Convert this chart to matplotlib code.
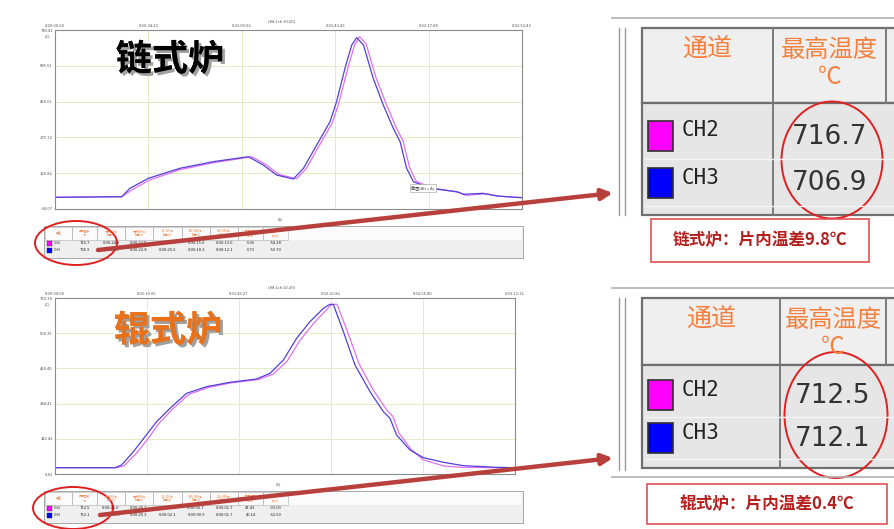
import numpy as np
import matplotlib
matplotlib.use("Agg")
import matplotlib.pyplot as plt
import matplotlib.patheffects as pe
from matplotlib.patches import Rectangle, Ellipse

plt.rcParams['font.family'] = ['Noto Sans CJK SC', 'DejaVu Sans']

# ---------------- data ----------------
# chain furnace (链式炉), time in s, temperature in C
chain_t_ch3 = [0, 24.6, 27.6, 34.4, 46.0, 58.3, 71.2, 76.7, 81.6, 87.8, 91.5, 96.4, 101.3, 103.7,
               106.8, 109.3, 111.1, 113.6, 117.2, 120.9, 124.6, 127.1, 129.5, 132.0, 138.1,
               147.9, 150.4, 157.7, 162.7, 171.9]
chain_ch3 = [16.5, 19.2, 55.4, 98.7, 142, 170.7, 192.3, 156.3, 113, 95.7, 142, 243, 343.7, 430.4,
             574.6, 675.6, 707.2, 675.6, 531.4, 416, 315, 257.3, 142, 84, 55.4,
             40.8, 29.5, 33.8, 22.2, 14.8]
chain_t_ch2 = [0, 24.6, 28.5, 35.0, 46.0, 58.3, 72.5, 77.7, 82.5, 89.0, 92.5, 97.3, 102.2, 104.6,
               107.8, 110.3, 112.2, 114.6, 118.2, 122.0, 125.6, 128.2, 130.6, 133.0, 139.0,
               148.9, 151.4, 158.7, 163.7, 171.9]
chain_ch2 = [16.5, 19, 50, 92, 136, 166, 192, 158, 115, 97, 140, 240, 340, 428,
             572, 675, 712, 680, 535, 420, 320, 260, 145, 86, 57,
             38, 25, 32, 21, 15]

# roller furnace (辊式炉)
roller_t_ch3 = [0, 30, 33.3, 39.2, 45, 50.8, 57.5, 65.8, 75.8, 87.5, 100.8, 107.5, 114.2, 120.8,
                127.5, 134.2, 137.5, 139.2, 144.2, 150, 157.5, 164.2, 167.5, 170.8, 177.5,
                184.2, 194.2, 204.2, 220.8, 230]
roller_ch3 = [25.9, 25.9, 36.7, 90.4, 151, 211.5, 265.4, 325.9, 352.7, 370.3, 383.7, 406.5, 460.3,
              547.7, 615, 668.8, 684.9, 684, 574.5, 440.1, 332.6, 251.8, 225.1, 157.8, 97.2,
              66.3, 47.6, 34, 27.4, 25.9]
roller_t_ch2 = [0, 31, 34.5, 40.5, 46.5, 52, 58.5, 67, 77, 88, 101.5, 109, 116, 122.5,
                129.5, 136, 138.5, 141, 146, 152, 159.2, 166, 169, 172, 178,
                184, 194.2, 204.2, 220.8, 230]
roller_ch2 = [25.9, 25.9, 33, 82, 143, 205, 260, 322, 350, 368, 381, 403, 455, 540,
              610, 665, 685, 685, 580, 445, 338, 257, 232, 165, 100,
              58, 33, 27, 26, 26]

chain_xticks = ["0:00:00:00", "0:00:34:22", "0:01:09:02", "0:01:43:43", "0:02:17:84", "0:02:52:43"]
chain_yticks = ["-34.07", "120.82", "275.72", "430.61", "585.51", "740.41"]
roller_xticks = ["0:00:00:00", "0:01:10:05", "0:01:45:27", "0:02:21:82", "0:02:55:40", "0:03:12:12"]
roller_yticks = ["0.43", "142.42", "284.41", "426.40", "568.39", "710.38"]

channels = ["CH2", "CH3"]
ch_colors = ["#ff00ff", "#0000ff"]
line_colors = ["#e070f0", "#5040d8"]

table_head = ["通道", "最高温度\n℃", "大于200℃\n时间(s)", "大于400℃\n时间(s)", "60~200℃\n时间(s)",
              "200~400℃\n时间(s)", "400~600℃\n时间(s)", "升温斜率\n(℃/s)", "降温斜率\n(℃/s)"]
chain_rows = [["716.7", "0:00:24.6", "0:00:22.5", "0:00:26.2", "0:00:15.0", "0:00:13.0", "6.36", "-54.28"],
              ["706.9", "0:00:24.8", "0:00:22.8", "0:00:25.6", "0:00:18.3", "0:00:12.1", "6.73", "-59.70"]]
roller_rows = [["712.5", "0:00:25.0", "0:00:25.2", "0:00:02.1", "0:00:00.7", "0:00:01.7", "47.43", "-93.09"],
               ["712.1", "0:00:25.6", "0:00:25.3", "0:00:02.1", "0:00:00.9", "0:00:01.7", "46.14", "-62.50"]]

chain_max = ["716.7", "706.9"]
roller_max = ["712.5", "712.1"]
chain_caption = "链式炉：片内温差9.8℃"
roller_caption = "辊式炉：片内温差0.4℃"

W, H = 894, 529
fig = plt.figure(figsize=(W / 100, H / 100), dpi=100)
fig.patch.set_facecolor("white")


def px_axes(x0, y0, x1, y1, **kw):
    return fig.add_axes([x0 / W, 1 - y1 / H, (x1 - x0) / W, (y1 - y0) / H], **kw)


def draw_chart(ax, t2, v2, t3, v3, xmax, ylims, xt, yt):
    ax.plot(t2, v2, color=line_colors[0], lw=0.9)
    ax.plot(t3, v3, color=line_colors[1], lw=0.9)
    ax.set_xlim(0, xmax)
    ax.set_ylim(*ylims)
    ax.set_xticks(np.linspace(0, xmax, 6))
    ax.set_xticklabels(xt)
    ax.set_yticks(np.linspace(ylims[0], ylims[1], 6))
    ax.set_yticklabels(yt)
    ax.xaxis.tick_top()
    ax.tick_params(labelsize=3, length=0, pad=1.5, colors="#555555")
    ax.grid(color="#e4eac4", lw=0.7)
    for s in ax.spines.values():
        s.set_color("#8a8a8a")
        s.set_linewidth(0.8)


ax1 = px_axes(55, 30, 522, 209)
draw_chart(ax1, chain_t_ch2, chain_ch2, chain_t_ch3, chain_ch3, 172,
           (float(chain_yticks[0]), float(chain_yticks[-1])), chain_xticks, chain_yticks)
ax2 = px_axes(55, 298, 515, 474)
draw_chart(ax2, roller_t_ch2, roller_ch2, roller_t_ch3, roller_ch3, 230,
           (float(roller_yticks[0]), float(roller_yticks[-1])), roller_xticks, roller_yticks)

# overlay in pixel coordinates
ov = px_axes(0, 0, W, H, zorder=5)
ov.set_xlim(0, W)
ov.set_ylim(H, 0)
ov.axis("off")
ov.patch.set_alpha(0)

# chart captions
ov.text(282, 21, "(88.1ch 10:20)", fontsize=3, ha="center", va="center", color="#555555")
ov.text(282, 287, "(88.1ch 10:20)", fontsize=3, ha="center", va="center", color="#555555")
ov.text(47, 36, "(C)", fontsize=3, ha="center", va="center", color="#555555")
ov.text(47, 304, "(C)", fontsize=3, ha="center", va="center", color="#555555")
ov.text(280, 219, "(S)", fontsize=3, ha="center", va="center", color="#555555")
ov.text(278, 484, "(S)", fontsize=3, ha="center", va="center", color="#555555")
ov.text(423, 188, "截图(Alt + A)", fontsize=3, ha="center", va="center", color="#444444",
        bbox=dict(boxstyle="square,pad=0.3", fc="white", ec="#999999", lw=0.4))

# big overlay titles
ov.text(170, 60, "链式炉", fontsize=26, fontweight="bold", color="black", ha="center", va="center",
        path_effects=[pe.withStroke(linewidth=3, foreground="white"),
                      pe.SimplePatchShadow(offset=(2, -2), shadow_rgbFace="#888888", alpha=0.8),
                      pe.Normal()])
ov.text(168, 331, "辊式炉", fontsize=26, fontweight="bold", color="#e8711a", ha="center", va="center",
        path_effects=[pe.withStroke(linewidth=3, foreground="white"),
                      pe.SimplePatchShadow(offset=(2, -2), shadow_rgbFace="#888888", alpha=0.8),
                      pe.Normal()])

# small data tables under the charts
col_edges = [45, 72, 97, 125, 153, 182, 210, 238, 263, 288]


def small_table(y0, rows):
    ov.add_patch(Rectangle((44, y0), 479, 32, fc="#efefef", ec="#9a9a9a", lw=0.6))
    ov.add_patch(Rectangle((45, y0 + 1), 477, 13, fc="#fbfbfb", ec="none"))
    for i in range(len(col_edges) - 1):
        ov.add_patch(Rectangle((col_edges[i], y0 + 1), col_edges[i + 1] - col_edges[i], 13,
                               fc="none", ec="#b0b0b0", lw=0.4))
        ov.text((col_edges[i] + col_edges[i + 1]) / 2, y0 + 7.5, table_head[i], fontsize=2,
                ha="center", va="center", color="#f07a3a", linespacing=1.0)
    for r, row in enumerate(rows):
        yy = y0 + 17 + r * 7
        ov.add_patch(Rectangle((47, yy - 2.5), 5, 5, fc=ch_colors[r], ec="#333333", lw=0.3))
        ov.text(54, yy, channels[r], fontsize=2.6, ha="left", va="center", color="#222222")
        for c, val in enumerate(row):
            ov.text((col_edges[c + 1] + col_edges[c + 2]) / 2, yy, val, fontsize=3,
                    ha="center", va="center", color="#222222")


small_table(226, chain_rows)
small_table(491, roller_rows)

# red ellipses around the small tables
ov.add_patch(Ellipse((76, 243), 82, 44, fc="none", ec="#e02020", lw=1.4))
ov.add_patch(Ellipse((73, 508), 80, 42, fc="none", ec="#e02020", lw=1.4))

# arrows to the zoomed tables
for start, end in [((98, 250), (613, 193)), ((100, 515), (613, 458))]:
    ov.annotate("", xy=end, xytext=start,
                arrowprops=dict(arrowstyle="-|>", lw=3.2, color="#b8403c", mutation_scale=16,
                                shrinkA=0, shrinkB=0))


# zoomed-in tables on the right
def big_table(top, head_bot, body_bot, frame_bot, col_x, maxvals, caption, cap_box, ell):
    ov.plot([612, W], [top - 10, top - 10], color="#b0b0b0", lw=1.2)
    ov.plot([619, 619], [top, frame_bot], color="#9a9a9a", lw=1.0)
    ov.plot([625, 625], [top, frame_bot], color="#9a9a9a", lw=1.0)
    ov.add_patch(Rectangle((642, top), W - 642 + 5, head_bot - top, fc="#efefef", ec="#6f6f6f", lw=1.6))
    ov.add_patch(Rectangle((642, head_bot), W - 642 + 5, body_bot - head_bot, fc="#e6e6e6",
                           ec="#6f6f6f", lw=1.6))
    ov.plot([col_x, col_x], [top, body_bot], color="#7a7a7a", lw=1.4)
    ov.plot([886, 886], [top, head_bot], color="#7a7a7a", lw=1.4)
    ov.text((642 + col_x) / 2, top + 22, "通道", fontsize=18, color="#f5803e",
            ha="center", va="center")
    ov.text((col_x + 886) / 2, top + 22, "最高温度", fontsize=17.5, color="#f5803e",
            ha="center", va="center")
    ov.text((col_x + 886) / 2, top + 49, "℃", fontsize=17, color="#f5803e",
            ha="center", va="center")
    row_h = (body_bot - head_bot - 18) / 2
    for r in range(2):
        yc = head_bot + 8 + row_h * (r + 0.5)
        ov.add_patch(Rectangle((648, yc - 14), 25, 30, fc=ch_colors[r], ec="#303030", lw=1.2))
        ov.text(682, yc - 4, channels[r], fontsize=15, family="DejaVu Sans Mono", color="#222222",
                ha="left", va="center")
        ov.text((col_x + 886) / 2, yc + 2, maxvals[r], fontsize=19, family="Liberation Sans Narrow",
                color="#333333", ha="center", va="center")
        ov.plot([645, W], [yc + row_h / 2 + 1, yc + row_h / 2 + 1], color="#f4f4f4", lw=1)
    ov.add_patch(Ellipse(ell[:2], ell[2], ell[3], fc="none", ec="#e02020", lw=1.4))
    x0, y0, x1, y1 = cap_box
    ov.add_patch(Rectangle((x0, y0), x1 - x0, y1 - y0, fc="white", ec="#e05050", lw=1.2))
    ov.text((x0 + x1) / 2, (y0 + y1) / 2, caption, fontsize=12, fontweight="bold",
            color="#b5201e", ha="center", va="center")


big_table(28, 103, 215, 215, 773, chain_max, chain_caption, (651, 219, 869, 262), (832, 160, 101, 117))
big_table(298, 365, 468, 470, 780, roller_max, roller_caption, (647, 484, 887, 524), (836, 415, 103, 126))
ov.plot([612, W], [477, 477], color="#b0b0b0", lw=1.2)

fig.savefig("out.png", dpi=100)
